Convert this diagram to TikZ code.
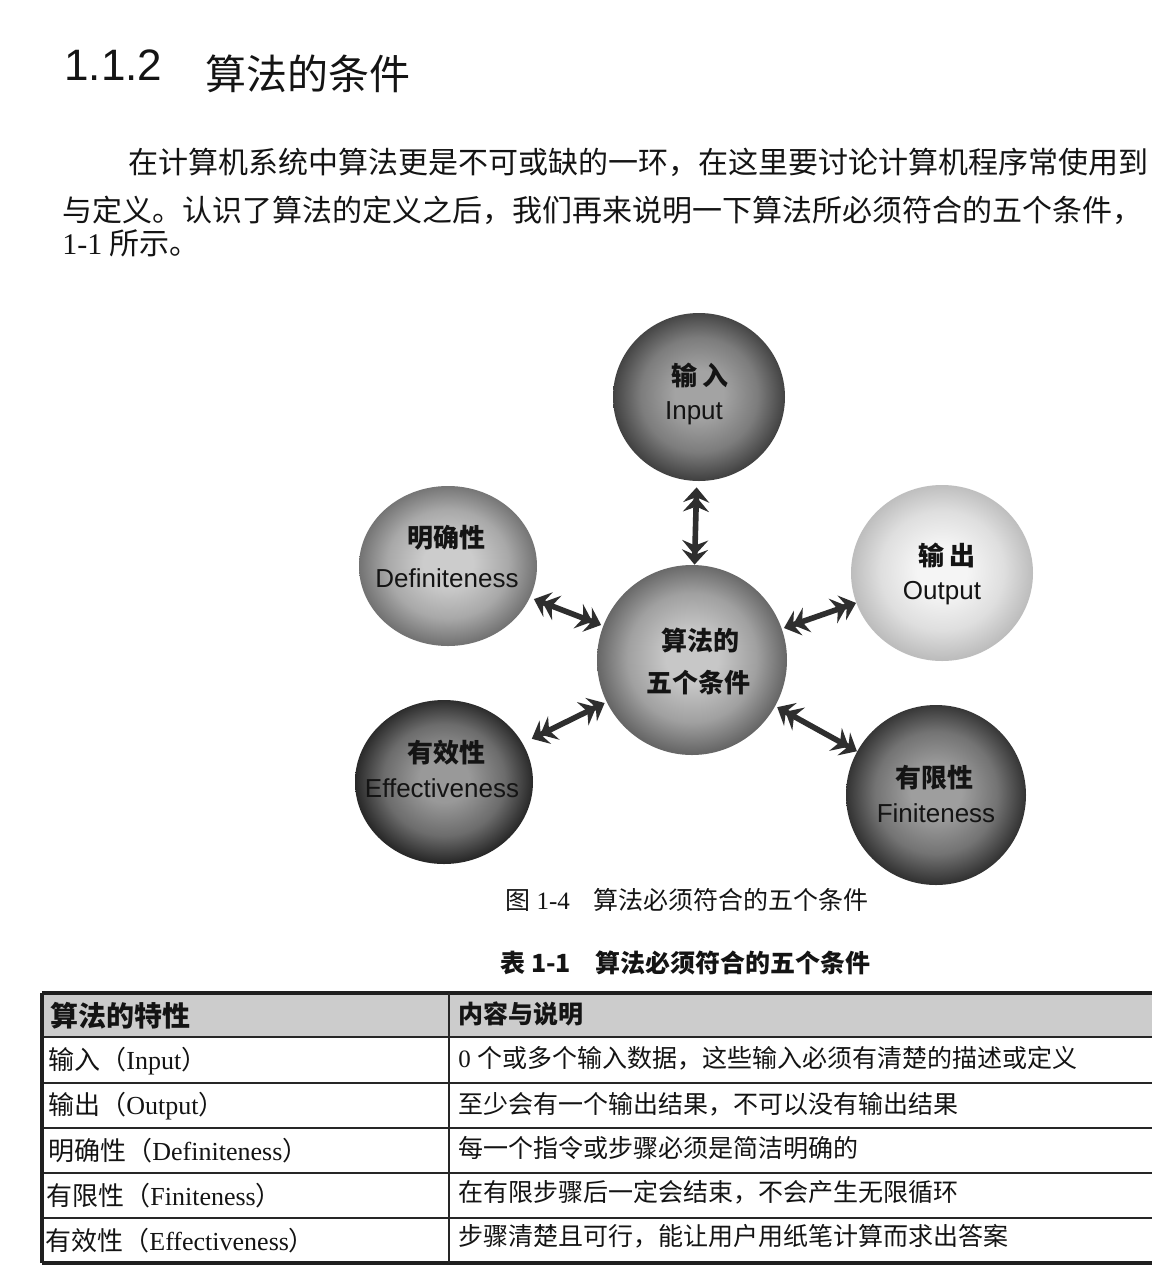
\documentclass[tikz,border=0pt]{standalone}
\usepackage{fontspec}
\setmainfont{Liberation Serif}
\newfontfamily\cjk{Noto Sans CJK SC}
\newfontfamily\arialf{Liberation Sans}
\usetikzlibrary{arrows.meta,shapes.geometric}

% colours used by the sphere shading (set per node)
\colorlet{sphin}{black!30}
\colorlet{sphout}{black!70}
\pgfdeclareradialshading[sphin,sphout]{sphere}{\pgfpoint{0bp}{1bp}}{%
  color(0bp)=(sphin); color(7bp)=(sphin); color(17bp)=(sphin!60!sphout);
  color(25bp)=(sphout); color(50bp)=(sphout)}

\colorlet{inkc}{black!92}
\colorlet{arrowc}{black!82}

\tikzset{
  dblhead/.tip={Stealth[length=7.5pt,width=13pt,inset=2.6pt,sep=-2.8pt]Stealth[length=7.5pt,width=13pt,inset=2.6pt]},
  sph/.style n args={4}{ellipse, minimum width=#1, minimum height=#2, inner sep=0pt,
    shade, shading=sphere, /utils/exec={\colorlet{sphin}{#3}\colorlet{sphout}{#4}}},
  cnlab/.style={font=\cjk\bfseries\fontsize{13}{15}\selectfont, text=inkc, inner sep=0pt},
  enlab/.style={font=\arialf\fontsize{13}{15}\selectfont, text=inkc, inner sep=0pt},
  link/.style={line width=2.8pt, draw=arrowc, dblhead-dblhead},
  body/.style={anchor=west, inner sep=0pt, text=inkc, font=\fontsize{15}{18}\selectfont},
  cellt/.style={anchor=west, inner sep=0pt, text=inkc, font=\fontsize{13}{15}\selectfont},
  cellr/.style={anchor=west, inner sep=0pt, text=inkc, font=\fontsize{12.5}{15}\selectfont},
  rule/.style={line width=1.1pt, draw=black!85},
  frame/.style={line width=1.6pt, draw=black!88},
}

\begin{document}
\begin{tikzpicture}[x=0.5pt,y=-0.5pt]
\useasboundingbox (0,0) rectangle (1152,1287);
\fill[white] (0,0) rectangle (1152,1287);

% ---- section heading ----
\node[anchor=base west, inner sep=0pt, text=inkc, font=\arialf\fontsize{22}{26}\selectfont] (secnum) at (64,80) {1.1.2};
\node[anchor=base west, inner sep=0pt, text=inkc, font=\cjk\fontsize{20.5}{24}\selectfont] (sectitle) at (205,89) {算法的条件};

% ---- paragraph ----
\node[body] (para1) at (128,162) {\cjk 在计算机系统中算法更是不可或缺的一环，在这里要讨论计算机程序常使用到};
\node[body] (para2) at (62,210) {\cjk 与定义。认识了算法的定义之后，我们再来说明一下算法所必须符合的五个条件，};
\node[body] (para3) at (62,243) {1-1 {\cjk 所示。}};

% ---- the five conditions ----
\node[sph={86pt}{84pt}{black!36}{black!74}] (inp) at (699,397) {};
\node[sph={89pt}{80pt}{black!20}{black!55}] (def) at (448,566) {};
\node[sph={91pt}{88pt}{black!4}{black!26}]  (out) at (942,573) {};
\node[sph={95pt}{95pt}{black!22}{black!60}] (ctr) at (692,660) {};
\node[sph={89pt}{82pt}{black!40}{black!84}] (eff) at (444,782) {};
\node[sph={90pt}{90pt}{black!38}{black!80}] (fin) at (936,795) {};

\node[cnlab] (inp-cn) at (700,375) {输\,入};
\node[enlab] (inp-en) at (694,413) {Input};
\node[cnlab] (def-cn) at (446,538) {明确性};
\node[enlab] (def-en) at (447,578) {Definiteness};
\node[cnlab] (out-cn) at (947,555) {输\,出};
\node[enlab] (out-en) at (942,593) {Output};
\node[cnlab] (ctr-cn1) at (700,640) {算法的};
\node[cnlab] (ctr-cn2) at (698,683) {五个条件};
\node[cnlab] (eff-cn) at (446,753) {有效性};
\node[enlab] (eff-en) at (442,788) {Effectiveness};
\node[cnlab] (fin-cn) at (934,778) {有限性};
\node[enlab] (fin-en) at (936,813) {Finiteness};

% ---- double-headed connectors ----
\draw[link, shorten <=3pt] (inp) -- (ctr);
\draw[link, shorten <=2pt, shorten >=1pt] (def) -- (ctr);
\draw[link, shorten >=1pt] (out) -- (ctr);
\draw[link, shorten <=5pt, shorten >=1pt] (eff) -- (ctr);
\draw[link, shorten >=1pt] (fin) -- (ctr);

% ---- captions ----
\node[anchor=west, inner sep=0pt, text=inkc, font=\fontsize{12.5}{15}\selectfont] (figcap) at (505,900)
  {{\cjk 图} 1-4\hspace{12pt}{\cjk 算法必须符合的五个条件}};
\node[anchor=west, inner sep=0pt, text=inkc, font=\cjk\bfseries\fontsize{12.5}{15}\selectfont] (tabcap) at (500,963)
  {表 1-1\hspace{12pt}算法必须符合的五个条件};

% ---- table ----
\fill[black!20] (42,993) rectangle (1160,1037);
\draw[frame] (42,993) -- (1160,993);
\draw[rule] (42,1037) -- (1160,1037);
\draw[rule] (42,1083) -- (1160,1083);
\draw[rule] (42,1128) -- (1160,1128);
\draw[rule] (42,1173) -- (1160,1173);
\draw[rule] (42,1218) -- (1160,1218);
\draw[frame] (42,1263) -- (1160,1263);
\draw[frame] (42,993) -- (42,1263);
\draw[rule] (449,993) -- (449,1263);

\node[cellt, font=\cjk\bfseries\fontsize{14}{16}\selectfont] (h1) at (50,1016) {算法的特性};
\node[cellr, font=\cjk\bfseries\fontsize{12.5}{15}\selectfont] (h2) at (458,1014) {内容与说明};

\node[cellt] (r1a) at (48,1061) {{\cjk 输入（}Input{\cjk ）}};
\node[cellt] (r2a) at (48,1106) {{\cjk 输出（}Output{\cjk ）}};
\node[cellt] (r3a) at (48,1151) {{\cjk 明确性（}Definiteness{\cjk ）}};
\node[cellt] (r4a) at (46,1196) {{\cjk 有限性（}Finiteness{\cjk ）}};
\node[cellt] (r5a) at (45,1241) {{\cjk 有效性（}Effectiveness{\cjk ）}};

\node[cellr] (r1b) at (458,1058) {0 {\cjk 个或多个输入数据，这些输入必须有清楚的描述或定义}};
\node[cellr] (r2b) at (458,1104) {\cjk 至少会有一个输出结果，不可以没有输出结果};
\node[cellr] (r3b) at (458,1148) {\cjk 每一个指令或步骤必须是简洁明确的};
\node[cellr] (r4b) at (458,1192) {\cjk 在有限步骤后一定会结束，不会产生无限循环};
\node[cellr] (r5b) at (458,1236) {\cjk 步骤清楚且可行，能让用户用纸笔计算而求出答案};
\end{tikzpicture}
\end{document}
